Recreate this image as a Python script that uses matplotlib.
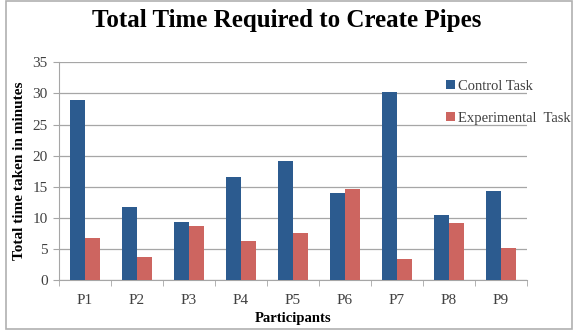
import numpy as np
import matplotlib.pyplot as plt
from matplotlib.patches import Rectangle

participants = ['P1', 'P2', 'P3', 'P4', 'P5', 'P6', 'P7', 'P8', 'P9']
control_task = [29.0, 11.7, 9.3, 16.6, 19.2, 14.0, 30.3, 10.4, 14.3]
experimental_task = [6.7, 3.7, 8.7, 6.2, 7.5, 14.6, 3.3, 9.1, 5.1]

blue = '#2c5b8f'
red = '#cd6560'
grid_gray = '#a6a6a6'
text_gray = '#404040'

plt.rcParams['font.family'] = ['Liberation Serif', 'DejaVu Serif']

fig = plt.figure(figsize=(5.74, 3.30), dpi=100)
W, H = 574, 330

# outer frame of the chart area
fig.patches.append(Rectangle((6 / W, 1 / H), 566 / W, 328 / H, transform=fig.transFigure,
                             fill=False, edgecolor='#b0b0b0', linewidth=1.2))

ax = fig.add_axes([59 / W, 1 - 280 / H, 468 / W, (280 - 62.3) / H])

x = np.arange(len(participants))
bw = 0.29
ax.bar(x - bw / 2, control_task, width=bw, color=blue, label='Control Task', zorder=3)
ax.bar(x + bw / 2, experimental_task, width=bw, color=red, label='Experimental  Task', zorder=3)

ax.set_xlim(-0.5, len(participants) - 0.5)
ax.set_ylim(0, 35)
ax.set_yticks(range(0, 36, 5))
ax.yaxis.grid(True, color=grid_gray, linewidth=0.9, zorder=0)

ax.set_xticks(x)
ax.set_xticklabels(participants)
ax.set_xticks(np.arange(-0.5, len(participants), 1), minor=True)
ax.tick_params(axis='x', which='major', length=0, pad=10, labelsize=11, labelcolor=text_gray)
ax.tick_params(axis='x', which='minor', length=4, color=grid_gray, direction='out')
ax.tick_params(axis='y', length=4, color=grid_gray, labelsize=11, labelcolor=text_gray, pad=4)

for side in ['top', 'right']:
    ax.spines[side].set_visible(False)
ax.spines['left'].set_color(grid_gray)
ax.spines['bottom'].set_color(grid_gray)

ax.set_xlabel('Participants', fontsize=10.5, fontweight='bold', labelpad=4)
ax.set_ylabel('Total time taken in minutes', fontsize=11, fontweight='bold', labelpad=5)

fig.text(0.5, 1 - 21 / H, 'Total Time Required to Create Pipes', ha='center', va='center',
         fontsize=18, fontweight='bold')

fig.legend(loc='upper left', bbox_to_anchor=(440 / W, 1 - 74 / H), frameon=False,
           fontsize=10.5, handlelength=0.6, handleheight=0.6, handletextpad=0.25,
           labelspacing=1.3, borderaxespad=0, labelcolor=text_gray)

fig.savefig('out.png', dpi=100)
